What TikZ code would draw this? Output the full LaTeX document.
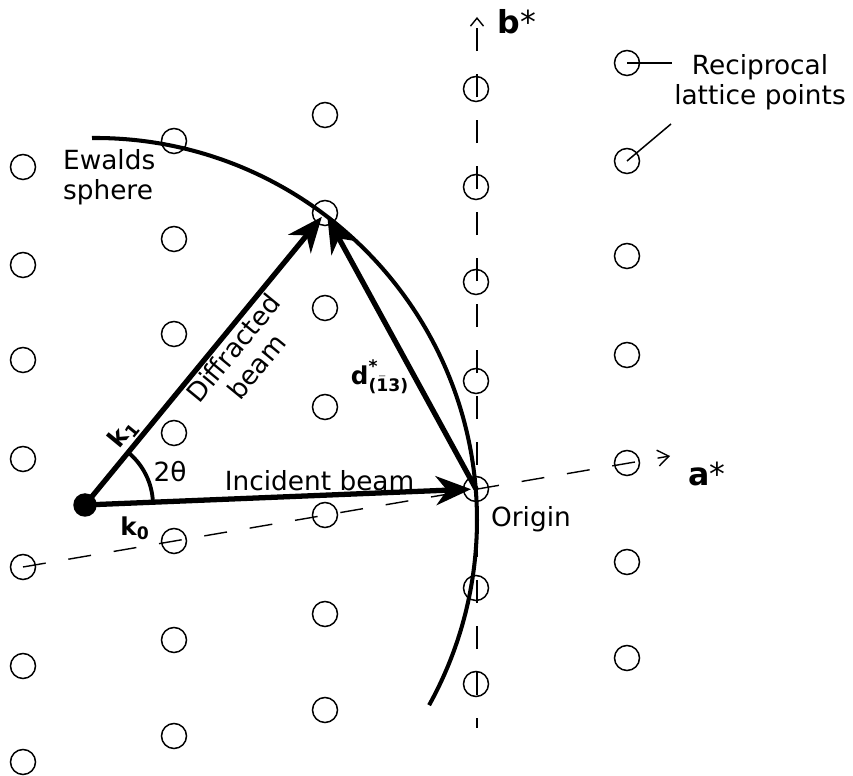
\documentclass[tikz,border=0pt]{standalone}
\usepackage{fontspec}
\setmainfont{DejaVu Sans}
\usepackage{amsmath}
\usepackage{tikz}
\usetikzlibrary{arrows.meta}

\begin{document}
\begin{tikzpicture}[
        x=0.02cm, y=-0.02cm,
        lattice/.style={circle, draw, minimum size=0.5cm, inner sep=0pt, line width=0.85pt},
        crystal/.style={circle, fill, minimum size=0.47cm, inner sep=0pt},
        beam/.style={line width=3pt, shorten >=0.1cm, -{Stealth[length=0.7cm, width=0.58cm, inset=0.22cm]}},
        axis/.style={line width=0.8pt, dash pattern=on 0.46cm off 0.46cm},
        sphere/.style={line width=2.3pt},
        lbl/.style={inner sep=1pt, font=\fontsize{15}{17}\selectfont},
        vec/.style={inner sep=1pt, font=\fontsize{14}{16}\selectfont},
        axlbl/.style={inner sep=1pt, font=\fontsize{18}{20}\selectfont}
    ]
        \useasboundingbox (0,0) rectangle (853,776);

        \foreach \i in {0,...,4} {
            \foreach \j/\dy in {0/-400, 1/-302, 2/-207, 3/-108, 4/0, 5/99, 6/195} {
                \node (lp-\i-\j) [lattice] at ({23+151*\i}, {567-26*\i+\dy}) {};
            }
        }

        \coordinate (aend) at (670,456);
        \coordinate (bbot) at (477,728);
        \coordinate (btop) at (477,17);
        \coordinate (latlead) at (671,124);

        \draw [axis, -{Straight Barb[length=0.22cm, width=0.32cm]}] (lp-0-4.center) -- (aend);
        \draw [axis, dash phase=0.26cm, -{Straight Barb[length=0.16cm, width=0.26cm]}] (bbot) -- (btop);
        \node (alabel) [axlbl] at (707,474) {\textbf{a}*};
        \node (blabel) [axlbl] at (517,22) {\textbf{b}*};

        \draw [sphere] (92,138) arc[start angle=-90.45, end angle=29, radius=382];
        \node (ewaldlbl) [lbl, align=left, anchor=west] at (61,177) {Ewalds\\sphere};

        \node (latlbl) [lbl, align=center] at (760,82) {Reciprocal\\lattice points};
        \draw [line width=0.85pt] (lp-4-0.center) -- (lp-4-0.center -| latlbl.west);
        \draw [line width=0.85pt] (lp-4-1.center) -- (latlead);

        \node (crystal) [crystal] at (85,505) {};
        \draw [line width=2.2pt] (crystal.center) ++(-2.3:68) arc[start angle=-2.3, end angle=-50.5, radius=68];
        \node (anglbl) [lbl] at (170,472) {2θ};

        \draw [beam] (crystal.center) -- node[lbl, above, pos=0.6] (inclbl) {Incident beam} (lp-3-4.center);
        \draw [beam] (crystal.center) -- node[vec, above, sloped, pos=0.21] (k1lbl) {$\textbf{k}_{\textbf{1}}$}
            node[lbl, below, sloped, pos=0.57, align=center] (difflbl) {Diffracted\\beam} (lp-2-1.center);
        \draw [beam] (lp-3-4.center) -- (lp-2-1.center);

        \node (k0lbl) [vec] at (135,528) {$\textbf{k}_{\textbf{0}}$};
        \node (dlbl) [vec] at (380,377) {$\textbf{d}^{\textbf{*}}_{\textbf{(}\bar{\textbf{1}}\textbf{3)}}$};
        \node (orilbl) [lbl] at (531,519) {Origin};
    \end{tikzpicture}
\end{document}
